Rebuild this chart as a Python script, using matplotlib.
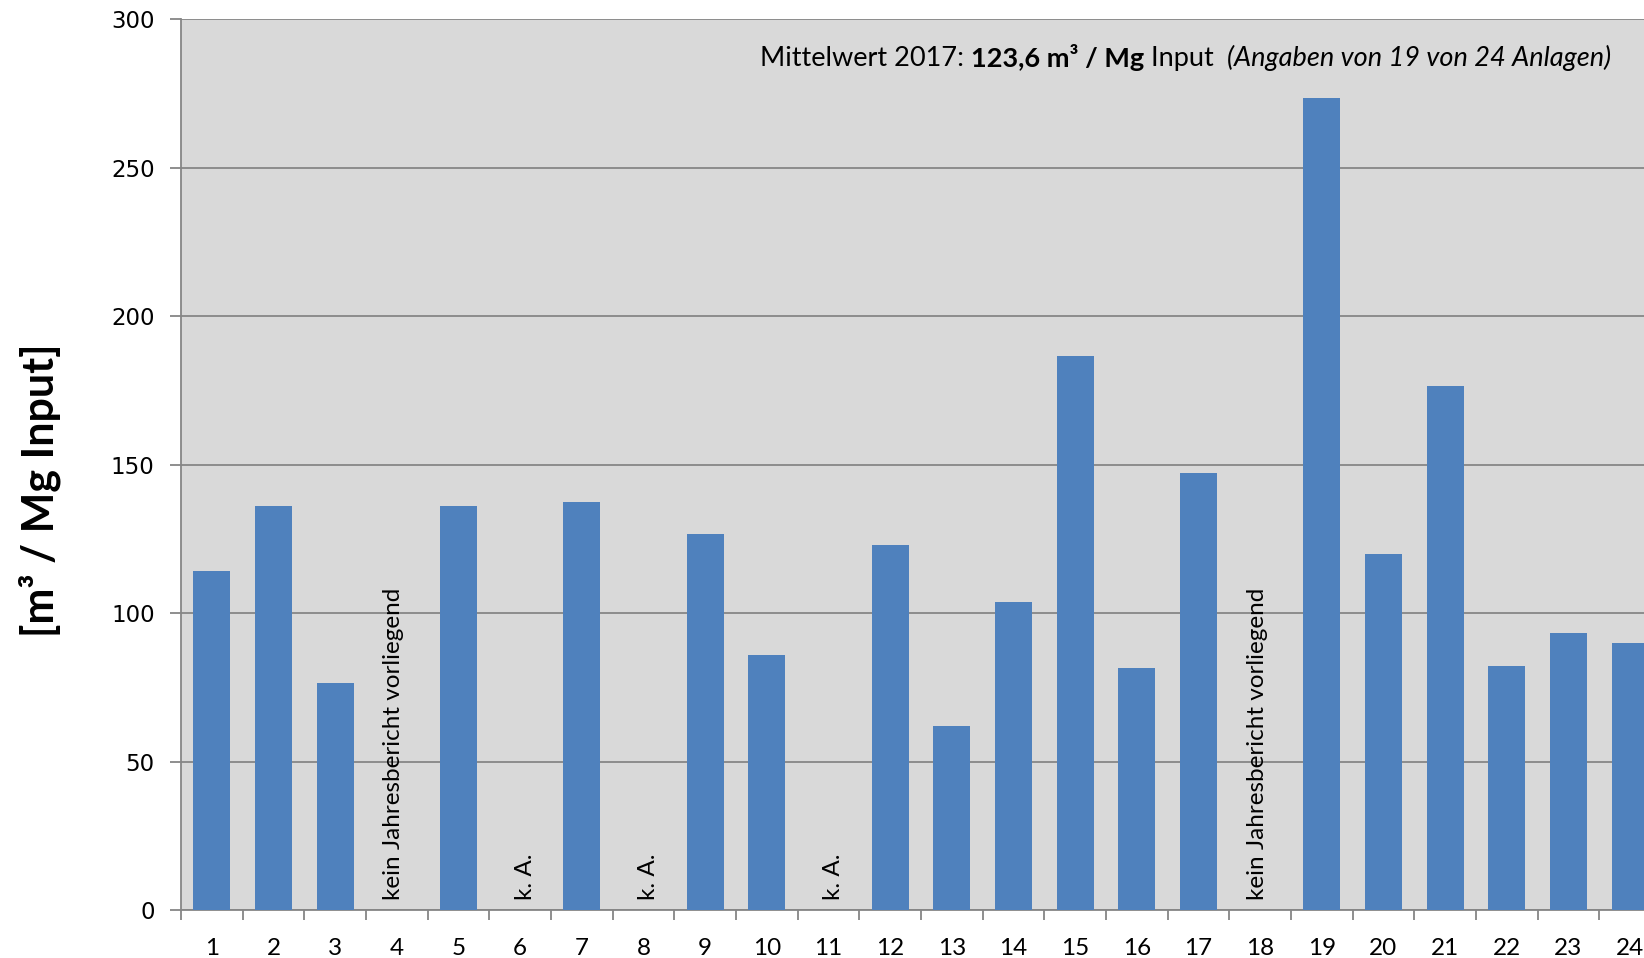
import numpy as np
import matplotlib
matplotlib.use("Agg")
from matplotlib import pyplot as plt

# Daten: spezifische Abluftmenge je Anlage
anlagen = [str(i) for i in range(1, 25)]
werte = [114.0, 135.9, 76.6, np.nan, 135.9, np.nan, 137.3, np.nan, 126.7, 85.8,
         np.nan, 122.8, 61.8, 103.8, 186.4, 81.5, 147.2, np.nan, 273.5, 120.0,
         176.5, 82.2, 93.2, 90.0]
hinweise = {4: "kein Jahresbericht vorliegend", 6: "k. A.", 8: "k. A.",
            11: "k. A.", 18: "kein Jahresbericht vorliegend"}
yticks = [0, 50, 100, 150, 200, 250, 300]

plt.rcParams['font.family'] = ['Lato', 'DejaVu Sans']

fig = plt.figure(figsize=(16.44, 9.58), dpi=100)
ax = fig.add_axes([0.1101, 0.0501, 0.9002, 0.930])
ax.set_facecolor('#D9D9D9')

x = np.arange(1, 25)
h = np.nan_to_num(np.array(werte))
ax.bar(x, h, width=0.6, color='#4F81BD', zorder=3)

for k, txt in hinweise.items():
    dx = 0.08 if txt == "k. A." else -0.05
    ax.text(k + dx, 3.5, txt, rotation=90, ha='center', va='bottom',
            fontsize=17.5, color='black', zorder=4)

ax.set_xlim(0.5, 24.5)
ax.set_ylim(0, 300)
ax.set_yticks(yticks)
ax.set_yticklabels([str(v) for v in yticks], family='DejaVu Sans', fontsize=16.5)
ax.yaxis.grid(True, color='#868686', linewidth=1.3, zorder=1)
ax.set_axisbelow(True)

ax.set_xticks(x)
ax.set_xticklabels(anlagen, fontsize=17.5)
ax.set_xticks(np.arange(0.5, 25, 1), minor=True)
ax.tick_params(axis='x', which='major', length=0, pad=20)
ax.tick_params(axis='x', which='minor', length=7, width=1.3, color='#868686', direction='out')
ax.tick_params(axis='y', length=8, width=1.3, color='#868686', pad=11)

for s in ['top', 'right']:
    ax.spines[s].set_visible(False)
for s in ['left', 'bottom']:
    ax.spines[s].set_color('#868686')
    ax.spines[s].set_linewidth(1.3)

ax.set_ylabel('[m³ / Mg Input]', fontsize=31, fontweight='bold')
ax.yaxis.set_label_coords(-0.081, 0.471)

# Mittelwert-Angabe, Stück für Stück
t1 = fig.text(0.462, 0.931, 'Mittelwert 2017: ', fontsize=19.5, va='baseline')
t2 = ax.annotate('123,6 m³ / Mg', xy=(1, 0), xycoords=t1, fontsize=19.5,
                 fontweight='bold', va='bottom')
t3 = ax.annotate(' Input  ', xy=(1, 0), xycoords=t2, fontsize=19.5, va='bottom')
t4 = ax.annotate('(Angaben von 19 von 24 Anlagen)', xy=(1, 0), xycoords=t3,
                 fontsize=19.5, style='italic', va='bottom')

plt.savefig('out.png', dpi=100)
